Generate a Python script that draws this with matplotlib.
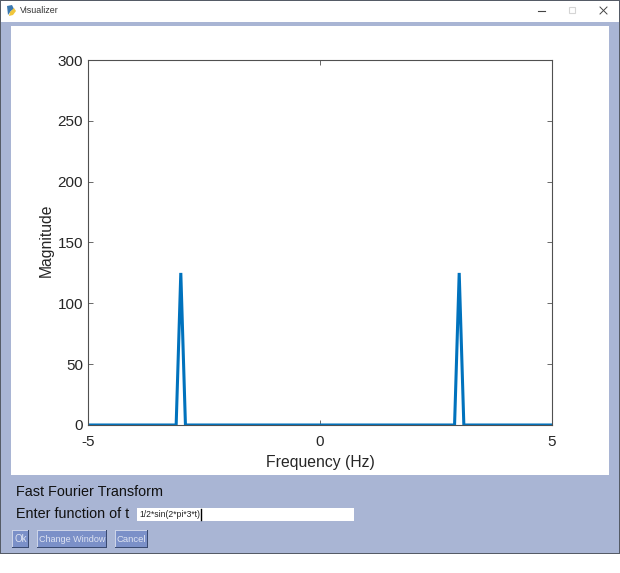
import matplotlib
matplotlib.use("Agg")
import matplotlib.pyplot as plt
from matplotlib.patches import Rectangle, Polygon

plt.rcParams['font.family'] = ['Liberation Sans', 'DejaVu Sans']
plt.rcParams['axes.unicode_minus'] = False

# spectrum of 1/2*sin(2*pi*3*t)
freq = [-5, -3.1, -3, -2.9, 2.9, 3, 3.1, 5]
magnitude = [0, 0, 125, 0, 0, 125, 0, 0]

x_ticks = [-5, 0, 5]
y_ticks = [0, 50, 100, 150, 200, 250, 300]

W, H = 620, 573
WINDOW_BG = "#a9b5d4"
BUTTON_BG = "#7b90c8"
LINE_BLUE = "#0072bd"
GREY = "#505050"

fig = plt.figure(figsize=(W / 100, H / 100), dpi=100, facecolor="white")

# window chrome, drawn in pixel coordinates
ui = fig.add_axes([0, 0, 1, 1])
ui.set_xlim(0, W)
ui.set_ylim(H, 0)
ui.axis("off")


def box(x0, y0, x1, y1, **kw):
    kw.setdefault("linewidth", 0)
    ui.add_patch(Rectangle((x0, y0), x1 - x0, y1 - y0, **kw))


box(0, 0, 620, 554, facecolor="#555b66")
box(1, 1, 619, 553, facecolor=WINDOW_BG)
box(1, 1, 619, 22, facecolor="white")
box(11, 26, 609, 475, facecolor="white")

# title bar
ui.text(20, 10.5, "Visualizer", fontsize=6.4, color="#333333", va="center")
ui.add_patch(Polygon([(7, 6), (12, 5), (14, 9), (11, 11), (8, 15)], facecolor="#3a78b0", linewidth=0))
ui.add_patch(Polygon([(14, 8), (16, 11), (13, 15), (9, 16), (10, 12)], facecolor="#f0c63c", linewidth=0))
ui.plot([538, 545], [10.5, 10.5], color="#444444", lw=0.8)
box(569, 7, 575, 13, facecolor="none", edgecolor="#d5d5d5", linewidth=0.8)
ui.plot([600, 607], [7, 14], color="#444444", lw=0.7)
ui.plot([600, 607], [14, 7], color="#444444", lw=0.7)

# labels under the plot
ui.text(16, 491.5, "Fast Fourier Transform", fontsize=10.4, color="#111111", va="center")
ui.text(16, 514.5, "Enter function of t", fontsize=10.4, color="#111111", va="center")

# entry field
box(137, 508, 354, 521, facecolor="white")
ui.text(139, 514.5, "1/2*sin(2*pi*3*t)", fontsize=6.2, color="#222222", va="center")
ui.plot([200.5, 200.5], [509, 520], color="black", lw=1)

# buttons
for x0, x1, label, size in [(12, 29, "Ok", 7), (37, 107, "Change Window", 6.5), (115, 148, "Cancel", 6.8)]:
    box(x0, 530, x1, 548, facecolor="#3a4a70")
    box(x0, 530, x1 - 1, 547, facecolor="#cdd4e8")
    box(x0 + 1, 531, x1 - 1, 547, facecolor=BUTTON_BG)
    ui.text((x0 + x1) / 2, 539, label, fontsize=size, color="#dfe4f2", ha="center", va="center")

# the plot
ax = fig.add_axes([88 / W, 1 - 425 / H, (552 - 88) / W, (425 - 60) / H])
ax.plot(freq, magnitude, color=LINE_BLUE, linewidth=2.2, solid_joinstyle="miter")
ax.set_xlim(-5, 5)
ax.set_ylim(0, 300)
ax.set_xticks(x_ticks)
ax.set_yticks(y_ticks)
ax.tick_params(direction="in", top=True, right=True, length=3.5, width=0.6, color=GREY,
               labelsize=11, labelcolor="#262626")
ax.tick_params(axis="x", pad=7)
ax.tick_params(axis="y", pad=3.5)
for spine in ax.spines.values():
    spine.set_linewidth(0.8)
    spine.set_color(GREY)
ax.set_xlabel("Frequency (Hz)", fontsize=11.3, color="#262626", labelpad=4.5)
ax.set_ylabel("Magnitude", fontsize=11.3, color="#262626", labelpad=3, y=0.505)

fig.savefig("out.png", dpi=100)
